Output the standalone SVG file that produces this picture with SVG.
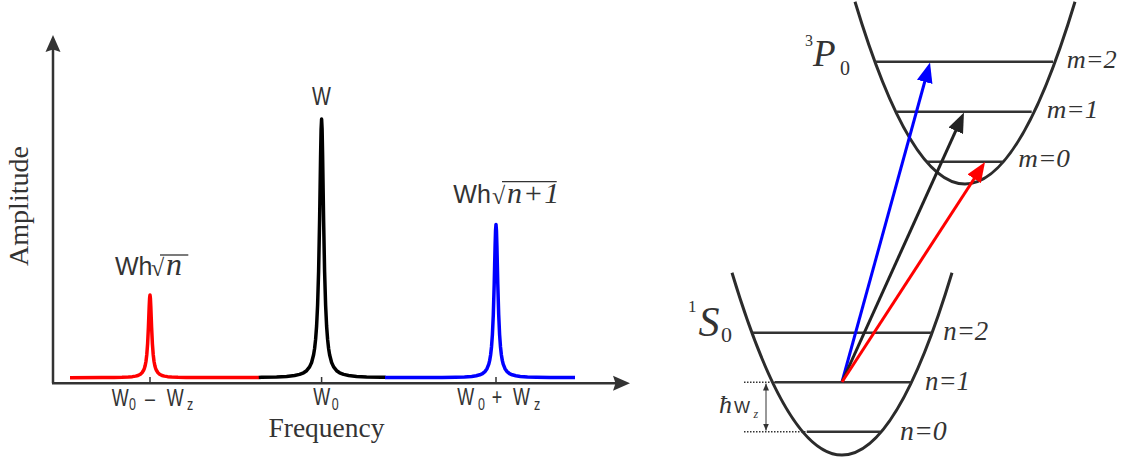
<svg xmlns="http://www.w3.org/2000/svg" width="1125" height="463" viewBox="0 0 1125 463">
<defs>
<style>
.axis{stroke:#333;stroke-width:2.5;fill:none}
.tick{stroke:#333;stroke-width:1.5}
.peak{fill:none;stroke-width:3.5;stroke-linejoin:round;stroke-linecap:butt}
.well{fill:none;stroke:#2b2b2b;stroke-width:3}
.lvl{stroke:#333;stroke-width:2.5}
.dot{stroke:#333;stroke-width:1.5;stroke-dasharray:1.5 1.5}
.sans{font-family:"Liberation Sans",Arial,sans-serif;fill:#333}
.serif{font-family:"Liberation Serif","Times New Roman",serif;fill:#333}
.it{font-family:"Liberation Serif","Times New Roman",serif;font-style:italic;fill:#333}
.up{font-style:normal}
.tr{stroke-width:3;fill:none}
</style>
<marker id="hb" markerUnits="userSpaceOnUse" markerWidth="20" markerHeight="16" refX="6" refY="8" orient="auto"><path d="M0,0 L20,8 L0,16 z" fill="#0000ff"/></marker>
<marker id="hk" markerUnits="userSpaceOnUse" markerWidth="20" markerHeight="16" refX="6" refY="8" orient="auto"><path d="M0,0 L20,8 L0,16 z" fill="#222"/></marker>
<marker id="hr" markerUnits="userSpaceOnUse" markerWidth="20" markerHeight="16" refX="6" refY="8" orient="auto"><path d="M0,0 L20,8 L0,16 z" fill="#ff0000"/></marker>
<marker id="ha" markerUnits="userSpaceOnUse" markerWidth="7" markerHeight="6" refX="7" refY="3" orient="auto-start-reverse"><path d="M0,0 L7,3 L0,6 z" fill="#333"/></marker>
</defs>

<g id="axes">
<line class="axis" x1="53" y1="383.3" x2="53" y2="48"/>
<path d="M53,35 L60.5,52 L53,49.5 L45.5,52 z" fill="#333"/>
<line class="axis" x1="52" y1="383.3" x2="616" y2="383.3"/>
<path d="M630,383.3 L613,375.8 L615.5,383.3 L613,390.8 z" fill="#333"/>
<line class="tick" x1="150" y1="377" x2="150" y2="383"/>
<line class="tick" x1="321.6" y1="377" x2="321.6" y2="383"/>
<line class="tick" x1="496" y1="377" x2="496" y2="383"/>
<text class="serif" font-size="27.5" x="326.5" y="437" text-anchor="middle">Frequency</text>
<text class="serif" font-size="28" transform="translate(28,206) rotate(-90)" text-anchor="middle">Amplitude</text>
</g>

<g id="peak-red">
<polyline class="peak" stroke="#ff0000" points="70,377.7 102,377.6 114,377.45 122,377.3 128.4,377.0 132.4,376.65 135.6,376.1 138,375.5 140.4,374.3 142,372.8 143.6,370.3 144.4,368.4 145.2,365.5 146,361.2 146.8,354.5 147.6,343.8 148.4,327.3 148.8,316.9 149.2,306.4 149.6,298.2 150,295 150.4,298.2 150.8,306.4 151.2,316.9 151.6,327.3 152.4,343.8 153.2,354.5 154,361.2 154.8,365.5 155.6,368.4 156.4,370.3 158,372.8 159.6,374.3 162,375.5 164.4,376.1 167.6,376.65 171.6,377.0 178,377.3 186,377.45 198,377.6 259,377.5"/>
<line x1="160" y1="255" x2="188.3" y2="255" stroke="#333" stroke-width="1.3"/>
<text class="sans" font-size="25" x="115" y="275">Wh<tspan class="serif" font-size="24" x="151" y="276">√</tspan><tspan class="it" font-size="32" x="166" y="275">n</tspan></text>
</g>

<g id="peak-black">
<polyline class="peak" stroke="#000" points="258.8,377.4 261.6,377.25 276.6,376.9 286.6,376.4 294.6,375.5 299.6,374.4 303.6,372.8 306.6,370.7 309.6,366.9 311.6,362.5 313.6,354.7 314.6,348.5 315.6,339.4 316.6,326.0 317.6,305.0 318.6,271.6 319.6,219.9 320.1,187.6 320.6,154.7 321.1,129.0 321.6,119.0 322.1,129.0 322.6,154.7 323.1,187.6 323.6,219.9 324.6,271.6 325.6,305.0 326.6,326.0 327.6,339.4 328.6,348.5 329.6,354.7 331.6,362.5 333.6,366.9 336.6,370.7 339.6,372.8 343.6,374.4 348.6,375.5 356.6,376.4 366.6,376.9 381.6,377.25 385.5,377.35"/>
<text class="sans" font-size="25" transform="translate(312,105) scale(0.8,1)">W</text>
</g>

<g id="peak-blue">
<polyline class="peak" stroke="#0000ff" points="385,377.4 442,377.4 455.5,377.2 464.5,376.9 471.7,376.4 476.2,375.75 479.8,374.8 482.5,373.6 485.2,371.3 487,368.7 488.8,364.1 489.7,360.4 490.6,355.0 491.5,347.0 492.4,334.6 493.3,314.8 494.2,284.2 494.65,265.0 495.1,245.6 495.55,230.3 496,224.4 496.45,230.3 496.9,245.6 497.35,265.0 497.8,284.2 498.7,314.8 499.6,334.6 500.5,347.0 501.4,355.0 502.3,360.4 503.2,364.1 505,368.7 506.8,371.3 509.5,373.6 512.2,374.8 515.8,375.75 520.3,376.4 527.5,376.9 536.5,377.2 550,377.4 575,377.5"/>
<line x1="502" y1="181.7" x2="556.7" y2="181.7" stroke="#333" stroke-width="1.3"/>
<text class="sans" font-size="25" x="453.3" y="203.3">Wh<tspan class="serif" font-size="24" x="492" y="204.3">√</tspan><tspan class="it" font-size="30" x="507" y="203.3" letter-spacing="1">n+1</tspan></text>
</g>

<g id="freq-labels">
<text class="sans" font-size="23" transform="translate(111.7,405.7) scale(0.78,1)"><tspan x="0" y="0">W</tspan><tspan font-size="16" x="22.2" y="4.5">0</tspan><tspan x="42.7" y="0">–</tspan><tspan x="70.5" y="0">W</tspan><tspan font-size="16" x="96.5" y="4.5">z</tspan></text>
<text class="sans" font-size="23" transform="translate(313.3,405.3) scale(0.78,1)"><tspan x="0" y="0">W</tspan><tspan font-size="16" x="23.6" y="4.5">0</tspan></text>
<text class="sans" font-size="23" transform="translate(457.3,405.3) scale(0.78,1)"><tspan x="0" y="0">W</tspan><tspan font-size="16" x="26.5" y="4.5">0</tspan><tspan x="44.1" y="0">+</tspan><tspan x="71.4" y="0">W</tspan><tspan font-size="16" x="98.3" y="4.5">z</tspan></text>
</g>

<g id="state-3P0">
<path class="well" d="M855,1.7 Q965,366.3 1075,1.7"/>
<line class="lvl" x1="875" y1="61.7" x2="1053" y2="61.7"/>
<line class="lvl" x1="896.7" y1="111.7" x2="1031.7" y2="111.7"/>
<line class="lvl" x1="926.7" y1="161.7" x2="1002.7" y2="161.7"/>
<text class="it" font-size="37" x="806" y="66"><tspan class="up" font-size="16" x="805" y="46">3</tspan><tspan x="813" y="66">P</tspan><tspan class="up" font-size="20" x="840" y="75">0</tspan></text>
<text class="it" font-size="26" x="1066.7" y="68.3" textLength="50" lengthAdjust="spacingAndGlyphs">m=2</text>
<text class="it" font-size="26" x="1046.7" y="118.3" textLength="51.6" lengthAdjust="spacingAndGlyphs">m=1</text>
<text class="it" font-size="26" x="1018.3" y="166.7" textLength="51.7" lengthAdjust="spacingAndGlyphs">m=0</text>
</g>

<g id="state-1S0">
<path class="well" d="M732,272.7 Q842,637.3 952,272.7"/>
<line class="lvl" x1="753" y1="332.7" x2="931.7" y2="332.7"/>
<line class="lvl" x1="775" y1="382.3" x2="910.7" y2="382.3"/>
<line class="lvl" x1="806.7" y1="431.7" x2="880" y2="431.7"/>
<text class="it" font-size="42" x="688" y="336"><tspan class="up" font-size="17" x="688" y="312">1</tspan><tspan x="698.5" y="336">S</tspan><tspan class="up" font-size="22" x="721" y="342">0</tspan></text>
<text class="it" font-size="27" x="943.3" y="340" textLength="45" lengthAdjust="spacingAndGlyphs">n=2</text>
<text class="it" font-size="27" x="925" y="390" textLength="45" lengthAdjust="spacingAndGlyphs">n=1</text>
<text class="it" font-size="27" x="900" y="440" textLength="46.7" lengthAdjust="spacingAndGlyphs">n=0</text>
</g>

<g id="spacing">
<line class="dot" x1="744" y1="382.3" x2="775" y2="382.3"/>
<line class="dot" x1="744" y1="431.7" x2="806" y2="431.7"/>
<line x1="766" y1="383.5" x2="766" y2="430.5" stroke="#333" stroke-width="1" marker-start="url(#ha)" marker-end="url(#ha)"/>
<text class="it" font-size="26" x="719" y="413.3">ħ<tspan class="sans" font-style="normal" font-size="17" x="734" y="413.3">W</tspan><tspan font-size="12" x="753.5" y="418.3">z</tspan></text>
</g>

<g id="connectors">
<line class="tr" stroke="#0000ff" x1="842" y1="382" x2="926.3" y2="76" marker-end="url(#hb)"/>
<line class="tr" stroke="#222" x1="842" y1="382" x2="958.2" y2="125.3" marker-end="url(#hk)"/>
<line class="tr" stroke="#ff0000" x1="842" y1="382" x2="977.4" y2="173.7" marker-end="url(#hr)"/>
</g>
</svg>
